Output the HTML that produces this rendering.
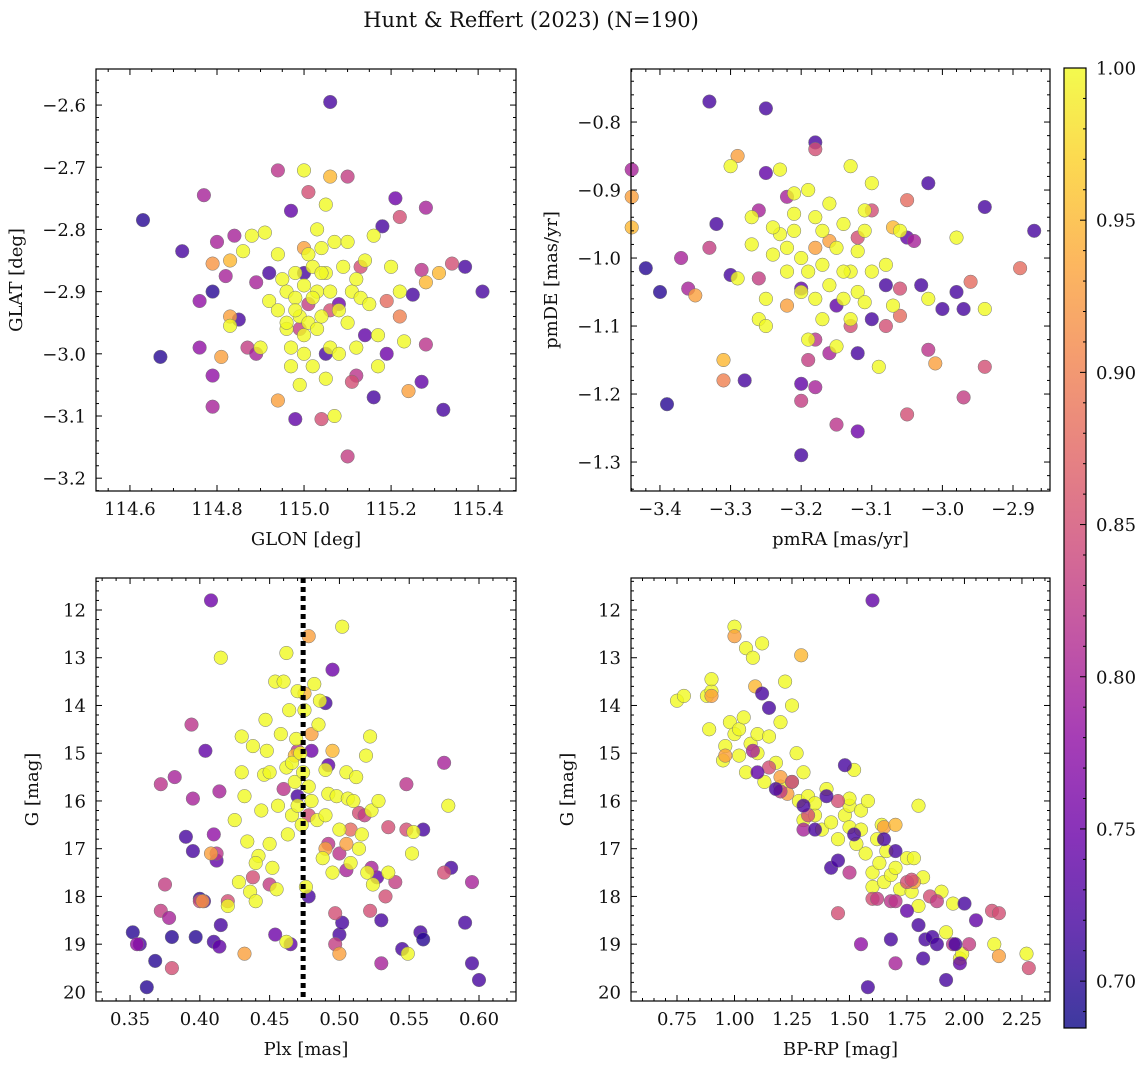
<!DOCTYPE html>
<html><head><meta charset="utf-8"><style>
body{margin:0;background:#fff;}
svg text{font-family:"DejaVu Serif","Liberation Serif",serif;fill:#111;}
</style></head><body>
<svg id="fig" width="1148" height="1068" viewBox="0 0 1148 1068" xmlns="http://www.w3.org/2000/svg">
<defs><linearGradient id="cbg" x1="0" y1="1" x2="0" y2="0"></linearGradient></defs>
<text x="531" y="27" text-anchor="middle" font-size="21">Hunt &amp; Reffert (2023) (N=190)</text>
</svg>
<script>
// ---- data ----
const tlGlon=[114.63,114.67,114.72,114.79,114.85,114.92,114.97,115.06,115.05,115.16,115.18,115.19,115.21,115.25,115.27,115.32,115.37,115.41,114.98,115.00,115.14,115.08,
114.77,114.76,114.76,114.79,114.79,114.80,114.82,114.84,114.87,114.89,114.89,114.94,115.01,115.04,115.10,115.12,115.11,115.10,115.22,115.28,115.28,115.27,115.34,115.19,115.22,115.13,115.01,115.06,114.99,
114.79,114.81,114.83,114.83,114.94,115.06,115.24,115.31,115.28,115.00,
114.83,114.86,114.88,114.91,114.92,114.94,114.94,114.95,114.96,114.96,114.97,114.97,114.98,114.98,114.99,114.99,115.0,115.0,115.0,115.01,115.01,115.02,115.02,115.03,115.03,115.03,115.04,115.04,115.05,115.05,115.05,115.06,115.06,115.07,115.07,115.08,115.09,115.1,115.1,115.11,115.12,115.12,115.13,115.14,115.15,115.16,115.17,115.17,115.2,115.22,115.23,114.98,114.9,115.0,115.08,115.04,114.96,115.02];
const tlGlat=[-2.785,-3.005,-2.835,-2.90,-2.945,-2.87,-2.77,-2.595,-3.00,-3.07,-2.795,-3.00,-2.75,-2.905,-3.045,-3.09,-2.86,-2.90,-3.105,-2.87,-2.97,-2.92,
-2.745,-2.915,-2.99,-3.035,-3.085,-2.82,-2.875,-2.81,-2.99,-2.885,-3.0,-2.705,-2.74,-3.105,-2.715,-3.035,-3.045,-3.165,-2.78,-2.765,-2.985,-2.865,-2.855,-2.915,-2.94,-2.86,-2.92,-2.93,-2.96,
-2.855,-3.005,-2.85,-2.94,-3.075,-2.715,-3.06,-2.87,-2.885,-2.83,
-2.955,-2.835,-2.81,-2.805,-2.915,-2.84,-2.93,-2.88,-2.9,-2.96,-2.99,-3.02,-2.87,-2.91,-2.94,-3.05,-2.705,-2.89,-2.97,-2.84,-2.95,-2.86,-3.02,-2.8,-2.9,-2.96,-2.83,-2.94,-2.76,-2.87,-3.04,-2.9,-2.99,-2.82,-3.1,-2.93,-2.86,-2.82,-2.95,-2.9,-2.88,-2.99,-2.91,-2.85,-2.92,-2.81,-2.97,-3.02,-2.86,-2.9,-2.98,-2.93,-2.99,-3.0,-3.0,-2.87,-2.95,-2.91];
const tlProb=[.7,.7,.72,.7,.72,.72,.74,.72,.72,.72,.72,.75,.75,.72,.74,.72,.72,.72,.74,.72,.74,.75,
.8,.78,.78,.78,.8,.8,.8,.8,.83,.8,.8,.82,.85,.85,.83,.82,.85,.83,.85,.8,.82,.82,.85,.88,.9,.85,.83,.85,.83,
.92,.93,.95,.93,.93,.95,.93,.95,.95,.93,
1,1,1,1,1,1,1,1,1,1,1,1,1,1,1,1,1,1,1,1,1,1,1,1,1,1,1,1,1,1,1,1,1,1,1,1,1,1,1,1,1,1,1,1,1,1,1,1,1,1,1,1,1,1,1,1,1,1];

const trPmra=[-3.42,-3.40,-3.39,-3.33,-3.32,-3.30,-3.28,-3.25,-3.25,-3.2,-3.2,-3.18,-3.12,-3.12,-3.10,-3.08,-3.02,-3.03,-3.0,-2.98,-2.97,-2.94,-2.87,-3.05,-3.15,-3.2,
-3.44,-3.37,-3.36,-3.33,-3.26,-3.26,-3.22,-3.18,-3.18,-3.18,-3.19,-3.2,-3.15,-3.12,-3.1,-3.08,-3.05,-3.05,-3.06,-3.06,-3.04,-3.02,-2.97,-2.96,-2.94,-2.89,-3.13,-3.16,
-3.44,-3.44,-3.35,-3.31,-3.31,-3.29,-3.22,-3.18,-3.16,-3.07,-3.01,
-3.30,-3.29,-3.27,-3.27,-3.26,-3.25,-3.25,-3.24,-3.23,-3.23,-3.22,-3.21,-3.21,-3.21,-3.2,-3.2,-3.19,-3.19,-3.18,-3.18,-3.17,-3.17,-3.16,-3.16,-3.15,-3.15,-3.14,-3.14,-3.13,-3.13,-3.12,-3.12,-3.11,-3.11,-3.1,-3.1,-3.09,-3.08,-3.07,-3.06,-3.02,-2.98,-2.94,-3.13,-3.17,-3.22,-3.24,-3.11,-3.14,-3.19];
const trPmde=[-1.015,-1.05,-1.215,-0.77,-0.95,-1.025,-1.18,-0.78,-0.875,-1.29,-1.185,-0.83,-1.14,-1.255,-1.09,-1.04,-0.89,-1.04,-1.075,-1.05,-1.075,-0.925,-0.96,-0.97,-1.07,-1.045,
-0.87,-1.0,-1.045,-0.985,-0.93,-1.03,-0.91,-0.84,-1.19,-1.12,-1.15,-1.21,-1.245,-0.97,-0.93,-1.1,-1.23,-0.915,-1.045,-1.085,-0.975,-1.135,-1.205,-1.035,-1.16,-1.015,-1.1,-1.14,
-0.91,-0.955,-1.055,-1.18,-1.15,-0.85,-1.07,-0.985,-0.975,-0.955,-1.155,
-0.865,-1.03,-0.94,-0.98,-1.09,-1.06,-1.1,-0.995,-0.87,-0.965,-0.985,-0.905,-0.935,-0.96,-1.0,-1.05,-0.9,-1.02,-0.94,-1.06,-0.96,-1.01,-0.92,-1.04,-0.985,-1.13,-0.95,-1.06,-0.865,-1.02,-0.99,-1.05,-0.96,-1.065,-0.89,-1.02,-1.16,-1.01,-1.07,-0.96,-1.06,-0.97,-1.075,-1.09,-1.09,-1.02,-0.955,-0.93,-1.02,-1.12];
const trProb=[.7,.7,.7,.72,.72,.72,.72,.72,.74,.72,.74,.72,.72,.75,.72,.72,.72,.72,.72,.72,.72,.72,.72,.74,.74,.74,
.8,.8,.8,.83,.8,.83,.8,.85,.8,.82,.83,.83,.82,.85,.85,.85,.85,.88,.85,.88,.8,.82,.83,.88,.85,.88,.85,.8,
.93,.95,.93,.9,.95,.93,.93,.93,.93,.95,.93,
1,1,1,1,1,1,1,1,1,1,1,1,1,1,1,1,1,1,1,1,1,1,1,1,1,1,1,1,1,1,1,1,1,1,1,1,1,1,1,1,1,1,1,1,1,1,1,1,1,1];

const blPlx=[.352,.357,.362,.368,.38,.39,.395,.397,.4,.403,.404,.408,.41,.412,.414,.415,.47,.478,.49,.5,.502,.492,.53,.545,.558,.56,.56,.58,.59,.595,.6,.527,.465,.454,.495,.48,
.355,.372,.375,.372,.378,.38,.382,.394,.395,.41,.412,.414,.42,.438,.45,.46,.47,.478,.492,.497,.5,.505,.508,.514,.518,.522,.523,.53,.533,.535,.54,.548,.548,.575,.575,.595,.4,.497,
.402,.408,.432,.478,.48,.49,.5,.505,.495,.468,.475,
.415,.42,.425,.428,.43,.43,.432,.434,.436,.438,.44,.442,.444,.446,.447,.448,.45,.45,.452,.454,.455,.456,.458,.46,.462,.462,.463,.464,.466,.466,.468,.469,.47,.47,.472,.473,.474,.475,.476,.478,.48,.482,.484,.485,.486,.488,.49,.49,.492,.495,.498,.5,.502,.505,.506,.508,.51,.512,.514,.516,.519,.52,.522,.523,.524,.528,.535,.549,.552,.553,.578,.462,.44];
const blG=[18.75,19.0,19.9,19.35,18.85,16.75,17.05,18.85,18.05,18.1,14.95,11.8,18.95,17.25,19.05,18.6,15.9,18.0,13.95,18.8,18.55,15.25,18.5,19.1,18.75,18.9,16.6,17.4,18.55,19.4,19.75,17.6,19.0,18.8,13.25,14.95,
19.0,15.65,17.75,18.3,18.45,19.5,15.5,14.4,15.95,16.7,17.1,15.8,18.1,17.6,17.75,15.75,14.95,16.3,16.9,19.0,17.1,17.45,16.6,16.25,16.3,18.3,17.4,19.4,18.0,16.55,17.7,15.65,16.6,15.2,17.5,17.7,18.1,18.35,
18.1,17.1,19.2,12.55,14.6,17.0,19.2,16.9,14.95,15.05,13.75,
13.0,18.2,16.4,17.7,14.65,15.4,15.9,16.85,17.9,14.85,18.1,17.15,16.2,15.45,14.3,14.95,16.9,15.4,17.4,13.5,17.85,16.1,14.6,13.5,12.9,15.3,16.7,14.1,15.2,16.3,15.6,14.7,16.1,13.7,15.0,16.5,15.4,14.1,17.8,15.7,16.0,13.55,16.4,14.4,13.9,17.2,15.35,16.3,15.85,17.5,15.9,16.6,12.35,15.4,15.95,17.3,16.0,15.5,17.0,16.7,15.05,17.5,14.65,16.2,17.75,16.0,17.5,19.2,17.1,16.65,16.1,18.95,17.3];
const blProb=[.7,.72,.7,.7,.7,.72,.72,.7,.7,.72,.74,.75,.72,.74,.74,.72,.72,.72,.72,.72,.72,.74,.72,.72,.72,.7,.72,.72,.72,.72,.72,.74,.74,.75,.75,.75,
.78,.82,.83,.83,.8,.85,.8,.82,.8,.78,.82,.8,.85,.85,.83,.82,.82,.85,.82,.83,.82,.8,.88,.85,.83,.85,.8,.8,.85,.85,.83,.82,.85,.8,.85,.8,.85,.85,
.92,.93,.93,.93,.93,.93,.93,.93,.95,.95,.95,
1,1,1,1,1,1,1,1,1,1,1,1,1,1,1,1,1,1,1,1,1,1,1,1,1,1,1,1,1,1,1,1,1,1,1,1,1,1,1,1,1,1,1,1,1,1,1,1,1,1,1,1,1,1,1,1,1,1,1,1,1,1,1,1,1,1,1,1,1,1,1,1,1];
const plxMean=0.474;

const brColor=[0.75,0.78,0.88,0.89,0.9,0.9,0.95,0.96,0.98,1.0,1.0,1.02,1.02,1.04,1.05,1.05,1.07,1.08,1.1,1.1,1.12,1.13,1.15,1.18,1.2,1.2,1.22,1.25,1.25,1.27,1.28,1.3,1.3,1.32,1.35,1.38,1.4,1.45,1.48,1.5,1.5,1.52,1.53,1.55,1.55,1.57,1.58,1.6,1.6,1.62,1.63,1.64,1.65,1.66,1.68,1.7,1.72,1.75,1.77,1.78,1.8,1.8,1.82,1.9,1.92,1.95,1.98,1.99,2.13,2.27,1.5,1.42,1.35,
0.9,0.96,1.0,1.09,1.23,1.29,1.65,1.7,1.78,2.15,1.2,
1.08,1.15,1.2,1.25,1.3,1.32,1.45,1.5,1.6,1.62,1.68,1.7,1.75,1.77,1.85,1.88,1.95,2.02,2.12,2.15,2.28,1.7,1.55,1.45,
1.1,1.12,1.15,1.18,1.3,1.35,1.4,1.42,1.45,1.48,1.52,1.58,1.6,1.65,1.68,1.7,1.8,1.82,1.83,1.86,1.88,1.92,1.96,1.98,2.0,2.05,1.75];
const brG=[13.9,13.8,13.8,14.5,13.7,13.45,15.15,14.85,14.35,12.35,14.6,14.5,15.05,14.25,15.4,12.8,14.8,13.0,15.0,14.6,12.7,15.6,14.65,15.2,14.35,15.7,13.5,15.6,14.0,15.0,16.0,15.4,16.4,15.9,16.3,16.6,15.75,16.8,16.3,16.1,16.55,15.35,16.9,16.2,16.6,17.1,16.0,17.5,17.8,16.8,17.3,16.5,17.7,17.05,17.55,17.4,17.85,17.2,17.9,17.2,18.2,16.1,17.6,17.9,18.75,18.15,19.3,19.2,19.0,19.2,15.95,16.45,16.05,
13.8,15.05,12.55,13.6,15.85,12.95,16.55,16.5,17.7,19.25,15.5,
14.95,15.3,15.8,15.6,16.6,16.3,18.35,17.5,18.05,18.05,18.1,18.1,17.7,17.65,18.0,18.1,19.0,19.0,18.3,18.35,19.5,19.4,19.0,16.0,
15.4,13.75,14.05,15.75,16.1,16.6,15.9,17.4,17.25,15.25,16.7,19.9,11.8,16.8,18.9,17.05,18.6,19.3,18.9,18.85,19.0,19.75,19.0,19.4,18.15,18.5,18.3];
const brProb=[1,1,1,1,1,1,1,1,1,1,1,1,1,1,1,1,1,1,1,1,1,1,1,1,1,1,1,1,1,1,1,1,1,1,1,1,1,1,1,1,1,1,1,1,1,1,1,1,1,1,1,1,1,1,1,1,1,1,1,1,1,1,1,1,1,1,1,1,1,1,1,1,1,
.93,.93,.93,.95,.93,.95,.93,.95,.93,.93,.93,
.8,.85,.83,.83,.8,.85,.85,.82,.85,.83,.82,.82,.85,.85,.85,.83,.82,.83,.85,.85,.85,.8,.78,.85,
.74,.72,.72,.72,.72,.72,.72,.72,.72,.72,.72,.72,.74,.72,.72,.72,.72,.72,.72,.72,.72,.72,.72,.74,.72,.74,.74];
const cbTicks=[0.70,0.75,0.80,0.85,0.90,0.95,1.00];
const cMin=0.6846, cMax=1.0;

// ---- helpers ----
const NS='http://www.w3.org/2000/svg';
const svg=document.getElementById('fig');
function mk(tag,attrs,parent){const e=document.createElementNS(NS,tag);for(const k in attrs)e.setAttribute(k,attrs[k]);(parent||svg).appendChild(e);return e;}
const stops=['#0d0887','#41049d','#6a00a8','#8f0da4','#b12a90','#cc4778','#e16462','#f2844b','#fca636','#fcce25','#f0f921'];
function hex(h){return [1,3,5].map(i=>parseInt(h.substr(i,2),16));}
function plasma(t){t=Math.max(0,Math.min(1,t));const f=t*10,i=Math.min(9,Math.floor(f)),u=f-i;const a=hex(stops[i]),b=hex(stops[i+1]);return 'rgb('+a.map((v,k)=>Math.round(v+(b[k]-v)*u)).join(',')+')';}
function cnorm(v){return (v-cMin)/(cMax-cMin);}
function fmt(v,d){return v.toFixed(d).replace('-','\u2212');}
const FS=18;

function panel(o){
  const g=mk('g',{});
  
  
  const sx=v=>o.x0+(v-o.xmin)/(o.xmax-o.xmin)*(o.x1-o.x0);
  const sy=v=>o.inv? o.y0+(v-o.ymin)/(o.ymax-o.ymin)*(o.y1-o.y0) : o.y1-(v-o.ymin)/(o.ymax-o.ymin)*(o.y1-o.y0);
  const pg=mk('g',{},g);
  
  
  for(let i=0;i<o.xs.length;i++){
    const c=mk('circle',{cx:sx(o.xs[i]).toFixed(1),cy:sy(o.ys[i]).toFixed(1),r:6.8,fill:plasma(cnorm(o.cs[i])),'fill-opacity':0.8,stroke:'#777','stroke-width':0.5},pg);
    
    
  }
  if(o.vline!==undefined){
    const l=mk('line',{x1:sx(o.vline),x2:sx(o.vline),y1:o.y0,y2:o.y1,stroke:'#000','stroke-width':5,'stroke-dasharray':'5,4'},g);
    
    
  }
  const fr=mk('rect',{x:o.x0,y:o.y0,width:o.x1-o.x0,height:o.y1-o.y0,fill:'none',stroke:'#000','stroke-width':1.2},g);
  
  
  const eps=1e-9;
  for(let v=Math.ceil(o.xmin/o.xminor-eps)*o.xminor;v<=o.xmax+eps;v+=o.xminor){
    const X=sx(v);const isMaj=Math.abs(v/o.xmajor-Math.round(v/o.xmajor))<1e-6;const L=isMaj?6:3;
    mk('line',{x1:X,x2:X,y1:o.y1,y2:o.y1-L,stroke:'#000','stroke-width':1},g);
    mk('line',{x1:X,x2:X,y1:o.y0,y2:o.y0+L,stroke:'#000','stroke-width':1},g);
    if(isMaj){const t=mk('text',{x:X,y:o.y1+24,'text-anchor':'middle','font-size':FS},g);t.textContent=fmt(v,o.xd);
      }
  }
  for(let v=Math.ceil(Math.min(o.ymin,o.ymax)/o.yminor-eps)*o.yminor;v<=Math.max(o.ymin,o.ymax)+eps;v+=o.yminor){
    const Y=sy(v);const isMaj=Math.abs(v/o.ymajor-Math.round(v/o.ymajor))<1e-6;const L=isMaj?6:3;
    mk('line',{x1:o.x0,x2:o.x0+L,y1:Y,y2:Y,stroke:'#000','stroke-width':1},g);
    mk('line',{x1:o.x1,x2:o.x1-L,y1:Y,y2:Y,stroke:'#000','stroke-width':1},g);
    if(isMaj){const t=mk('text',{x:o.x0-10,y:Y+6.5,'text-anchor':'end','font-size':FS},g);t.textContent=fmt(v,o.yd);
      }
  }
  const xl=mk('text',{x:(o.x0+o.x1)/2,y:o.y1+54,'text-anchor':'middle','font-size':FS},g);xl.textContent=o.xlabel;
  
  const yx=o.x0-o.ylabOff,yy=(o.y0+o.y1)/2;
  const yl=mk('text',{x:yx,y:yy,'text-anchor':'middle','font-size':FS,transform:'rotate(-90 '+yx+' '+yy+')'},g);yl.textContent=o.ylabel;
  
}

panel({name:'glon-glat-panel',x0:96,x1:516,y0:69,y1:491,xmin:114.522,xmax:115.487,ymin:-3.2206,ymax:-2.542,xmajor:0.2,xminor:0.05,ymajor:0.1,yminor:0.02,xd:1,yd:1,xs:tlGlon,ys:tlGlat,cs:tlProb,xlabel:'GLON [deg]',ylabel:'GLAT [deg]',ylabOff:74});
panel({name:'proper-motion-panel',x0:631,x1:1050,y0:69,y1:491,xmin:-3.441,xmax:-2.8476,ymin:-1.3426,ymax:-0.722,xmajor:0.1,xminor:0.02,ymajor:0.1,yminor:0.02,xd:1,yd:1,xs:trPmra,ys:trPmde,cs:trProb,xlabel:'pmRA [mas/yr]',ylabel:'pmDE [mas/yr]',ylabOff:74});
panel({name:'parallax-mag-panel',x0:96,x1:516,y0:578,y1:1001,xmin:0.3256,xmax:0.6265,ymin:11.33,ymax:20.19,inv:true,xmajor:0.05,xminor:0.01,ymajor:1,yminor:0.2,xd:2,yd:0,xs:blPlx,ys:blG,cs:blProb,vline:plxMean,xlabel:'Plx [mas]',ylabel:'G [mag]',ylabOff:58});
panel({name:'cmd-panel',x0:631,x1:1050,y0:578,y1:1001,xmin:0.55,xmax:2.372,ymin:11.33,ymax:20.19,inv:true,xmajor:0.25,xminor:0.05,ymajor:1,yminor:0.2,xd:2,yd:0,xs:brColor,ys:brG,cs:brProb,xlabel:'BP-RP [mag]',ylabel:'G [mag]',ylabOff:58});

const grad=document.getElementById('cbg');
for(let i=0;i<=10;i++){mk('stop',{offset:i/10,'stop-color':stops[i],'stop-opacity':0.8},grad);}
const cb=mk('g',{});


const cbx0=1064,cbx1=1086,cby0=68,cby1=1028;
mk('rect',{x:cbx0,y:cby0,width:cbx1-cbx0,height:cby1-cby0,fill:'url(#cbg)',stroke:'#000','stroke-width':1.2},cb);
const cy=v=>cby1-(v-cMin)/(cMax-cMin)*(cby1-cby0);
for(let k=69;k<=100;k++){const v=k/100;const Y=cy(v);const maj=k%5===0;
  mk('line',{x1:cbx1,x2:cbx1-(maj?6:3),y1:Y,y2:Y,stroke:'#000','stroke-width':1},cb);}
cbTicks.forEach(v=>{const t=mk('text',{x:cbx1+10,y:cy(v)+6.5,'font-size':FS},cb);t.textContent=v.toFixed(2);
  });
</script>
</body></html>
